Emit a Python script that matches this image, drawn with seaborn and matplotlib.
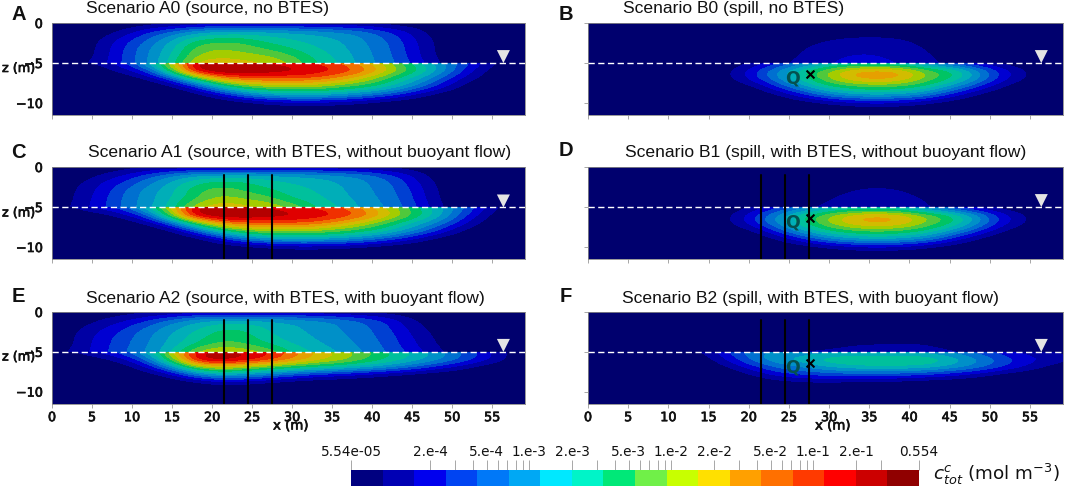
import numpy as np
import pandas as pd
import matplotlib
matplotlib.use("Agg")
import matplotlib.pyplot as plt
import matplotlib.patheffects as pe
from matplotlib.colors import BoundaryNorm, ListedColormap
from matplotlib.patches import Rectangle
import seaborn as sns

W, H = 1065, 489

# grid stations: first 6 rows sit above the water table, last 7 below it
x_m = [0, 3, 6, 9, 12, 15, 18, 21, 24, 27, 30, 33, 36, 39, 42, 45, 48, 51, 54, 57, 60]
z_upper = [0, -1, -2, -3, -4, -5]
z_lower = [-5, -6, -7, -8, -9, -10, -11]

# colour band reached at each grid node (0 = navy, 17 = dark red)
a0 = [
    [0, 0, 0, 0, .2, .5, .7, .8, .8, .8, .8, .7, .6, .5, .3, .1, 0, 0, 0, 0, 0],
    [0, 0, .2, 1.2, 2.8, 4, 5.5, 6, 6.2, 6, 5.8, 5.5, 5, 4.5, 3, 1.8, .3, 0, 0, 0, 0],
    [0, 0, .9, 2.5, 4, 6, 7.8, 8.5, 8.4, 7.5, 7, 6.5, 6, 5, 4, 2.2, .7, 0, 0, 0, 0],
    [0, 0, 1.2, 3, 4.8, 6.6, 9.5, 10, 9.5, 8.6, 7.8, 7, 6.3, 5.2, 4.2, 2.5, .8, 0, 0, 0, 0],
    [0, 0, 1.3, 3.1, 5, 7, 10, 10.5, 10.3, 10, 9, 7.6, 6.6, 5.4, 4.3, 2.6, .8, 0, 0, 0, 0],
    [0, .6, 1.5, 3.2, 5, 7.5, 11.5, 12, 11.5, 11, 10, 8, 7, 5.5, 4.5, 3, 1.2, 0, 0, 0, 0],
    [0, .7, 1.5, 3, 6.5, 11, 16, 16.5, 16, 15.6, 15.2, 14.7, 13.7, 12, 10, 7.5, 5.5, 3.8, 2, .2, 0],
    [0, 0, .3, 1.5, 3.5, 10, 17.1, 17.9, 17.7, 17.1, 16.6, 16, 15.2, 14, 11.5, 9, 6.5, 3.5, 1, 0, 0],
    [0, 0, 0, .2, 1, 3.5, 9, 13, 14, 14.3, 14.3, 14, 12.8, 11, 8.8, 6.8, 4.5, 2, .5, 0, 0],
    [0, 0, 0, 0, 0, .5, 3, 7, 9.5, 10.3, 10.5, 10.3, 9.5, 8.7, 7.5, 5.3, 3, .8, 0, 0, 0],
    [0, 0, 0, 0, 0, 0, .2, 2, 4.5, 6, 6.5, 6.5, 6, 5, 3.7, 2, .5, 0, 0, 0, 0],
    [0, 0, 0, 0, 0, 0, 0, 0, .3, 1, 1.5, 1.5, 1.2, .7, .2, 0, 0, 0, 0, 0, 0],
    [0] * 21,
]
a1 = [
    [0, 0, .1, .4, .6, .8, .8, .8, .8, .8, .8, .8, .7, .6, .5, .3, 0, 0, 0, 0, 0],
    [0, .1, 1, 2, 3.5, 5, 6, 6.3, 6.5, 6.3, 6, 5.8, 5.3, 4.8, 3.5, 2, .4, 0, 0, 0, 0],
    [0, .7, 2, 3.2, 4.8, 6.3, 8, 8.6, 8.3, 7.5, 7, 6.6, 6, 5.2, 4.3, 2.6, .8, 0, 0, 0, 0],
    [0, 1, 2.3, 4, 5.5, 6.8, 8.8, 9.7, 9, 8.3, 7.5, 7, 6.2, 5.3, 4.5, 3, 1, 0, 0, 0, 0],
    [0, 1.1, 2.5, 4.2, 5.6, 7, 9, 10.5, 10, 9.5, 8, 7.3, 6.5, 5.5, 4.7, 3.2, 1.1, 0, 0, 0, 0],
    [.2, 1.3, 2.6, 4.3, 5.7, 7.5, 11, 12, 11.5, 11, 10, 8, 7, 5.7, 5, 3.5, 1.5, 0, 0, 0, 0],
    [.2, 1.3, 2.6, 4, 7, 11.5, 16, 16.4, 16, 15.7, 15.2, 14.6, 14, 12.5, 10.5, 8.5, 6.5, 4.5, 2.3, .2, 0],
    [0, 0, .4, 1.5, 4, 10.5, 17, 17.7, 17.4, 17, 16.5, 16, 15.2, 14, 11.8, 9.3, 7, 4, 1.2, 0, 0],
    [0, 0, 0, .2, 1, 4, 9.5, 13, 14, 14.3, 14.2, 13.8, 12.5, 10.8, 8.8, 7, 5, 2.5, .6, 0, 0],
    [0, 0, 0, 0, 0, .6, 3.5, 7.5, 9.5, 10.3, 10.3, 10, 9.3, 8.5, 7.3, 5.3, 3.2, .9, 0, 0, 0],
    [0, 0, 0, 0, 0, 0, .2, 2.2, 4.5, 5.8, 6.2, 6.2, 5.8, 4.9, 3.6, 2, .5, 0, 0, 0, 0],
    [0, 0, 0, 0, 0, 0, 0, 0, .3, .8, 1.2, 1.2, 1, .6, .2, 0, 0, 0, 0, 0, 0],
    [0] * 21,
]
a2 = [
    [0, 0, .2, .4, .6, .8, .9, .9, .9, .9, .9, .8, .7, .5, .3, .1, 0, 0, 0, 0, 0],
    [0, .1, 1, 1.8, 3, 4.5, 5.8, 6.3, 6.3, 6.2, 5.8, 5.4, 4.8, 4, 2.8, 1.2, .1, 0, 0, 0, 0],
    [0, .8, 1.8, 3, 4.3, 5.7, 6.8, 8, 8, 6.8, 6.2, 5.7, 5, 4.3, 3.2, 1.6, .5, 0, 0, 0, 0],
    [0, 1, 2.4, 3.5, 4.8, 6.2, 7.5, 8.7, 8.5, 7.3, 6.4, 5.9, 5.2, 4.5, 3.5, 2, .8, 0, 0, 0, 0],
    [0, 1.1, 2.5, 3.7, 5, 6.4, 8, 9.3, 9, 8, 7, 6.2, 5.5, 4.7, 3.7, 2.2, 1, 0, 0, 0, 0],
    [.5, 1.3, 2.6, 3.9, 5.2, 7, 10.5, 11.5, 11, 10, 8, 6.8, 6, 5, 4, 2.7, 1.3, .5, 0, 0, 0],
    [.5, 1.3, 2.6, 4, 6.5, 11, 15.3, 16.2, 15.5, 15, 13.5, 11.5, 10.5, 9.3, 8, 6.8, 5.5, 4, 2.5, .8, 0],
    [0, 0, .5, 1.8, 4.5, 10, 16.5, 17.6, 16.5, 15.3, 13.5, 12, 11, 9.5, 8.2, 7, 5.8, 4.3, 2.7, .8, 0],
    [0, 0, 0, .3, 2, 5.5, 10, 11.5, 10.5, 9.5, 8.7, 8, 7.3, 6.5, 5.5, 4.3, 2.8, 1.5, .3, 0, 0],
    [0, 0, 0, 0, .2, 1.5, 4.5, 6, 5.5, 4.5, 3.5, 2.5, 2, 1.4, .8, .3, 0, 0, 0, 0, 0],
    [0, 0, 0, 0, 0, 0, .3, 1.2, 1, .5, .1, 0, 0, 0, 0, 0, 0, 0, 0, 0, 0],
    [0] * 21,
    [0] * 21,
]
b0 = [
    [0] * 21,
    [0] * 21,
    [0, 0, 0, 0, 0, 0, 0, 0, 0, .3, .9, 1.3, 1.4, 1.1, .4, 0, 0, 0, 0, 0, 0],
    [0, 0, 0, 0, 0, 0, 0, 0, .1, 1, 1.6, 1.9, 1.9, 1.6, .9, .2, 0, 0, 0, 0, 0],
    [0, 0, 0, 0, 0, 0, 0, 0, .4, 1.2, 1.9, 2, 2, 1.8, 1.2, .4, 0, 0, 0, 0, 0],
    [0, 0, 0, 0, 0, 0, 0, .3, .8, 1.5, 2, 2.2, 2.2, 2, 1.5, .7, .2, 0, 0, 0, 0],
    [0, 0, 0, 0, 0, 0, .2, 1, 2.5, 4, 5.5, 6, 6, 5.5, 4, 2.8, 1.3, .3, 0, 0, 0],
    [0, 0, 0, 0, 0, 0, 1, 3, 5.5, 8, 10.3, 12.3, 12.8, 12.3, 10, 8.5, 6, 3, 1.2, 0, 0],
    [0, 0, 0, 0, 0, 0, 1, 3, 5.5, 8, 10.3, 12.3, 12.9, 12.3, 10, 8.5, 6, 3, 1.2, 0, 0],
    [0, 0, 0, 0, 0, 0, 0, 1, 3.5, 6, 8, 9, 9.3, 9, 8, 6, 3.5, 1.3, 0, 0, 0],
    [0, 0, 0, 0, 0, 0, 0, 0, 1, 3, 5, 6, 6.3, 6, 5, 2.8, 1, 0, 0, 0, 0],
    [0, 0, 0, 0, 0, 0, 0, 0, 0, .3, 1, 1.7, 2, 1.7, 1, .3, 0, 0, 0, 0, 0],
    [0] * 21,
]
b1 = [
    [0] * 21,
    [0] * 21,
    [0, 0, 0, 0, 0, 0, 0, 0, 0, 0, 0, .6, .8, .6, .1, 0, 0, 0, 0, 0, 0],
    [0, 0, 0, 0, 0, 0, 0, 0, 0, 0, .6, 1.1, 1.2, 1.1, .6, 0, 0, 0, 0, 0, 0],
    [0, 0, 0, 0, 0, 0, 0, 0, 0, .2, 1, 1.4, 1.4, 1.3, 1, .2, 0, 0, 0, 0, 0],
    [0, 0, 0, 0, 0, 0, 0, .2, .5, .9, 1.3, 1.6, 1.6, 1.5, 1.2, .6, .2, 0, 0, 0, 0],
    [0, 0, 0, 0, 0, 0, .2, 1.1, 2.7, 4.2, 5.7, 6.2, 6.2, 5.7, 4.2, 2.9, 1.3, .3, 0, 0, 0],
    [0, 0, 0, 0, 0, 0, 1, 3.2, 5.7, 8.2, 10.2, 12, 12.5, 12, 10.2, 8.6, 6, 3, 1.2, 0, 0],
    [0, 0, 0, 0, 0, 0, 1, 3.2, 5.7, 8.2, 10.3, 12, 12.6, 12, 10.2, 8.6, 6, 3, 1.2, 0, 0],
    [0, 0, 0, 0, 0, 0, 0, 1, 3.7, 6.2, 8, 9, 9.3, 9, 8, 6, 3.6, 1.3, 0, 0, 0],
    [0, 0, 0, 0, 0, 0, 0, 0, 1.1, 3.1, 5, 6, 6.3, 6, 5, 2.9, 1, 0, 0, 0, 0],
    [0, 0, 0, 0, 0, 0, 0, 0, 0, .3, 1, 1.6, 1.9, 1.6, 1, .3, 0, 0, 0, 0, 0],
    [0] * 21,
]
b2 = [
    [0] * 21,
    [0] * 21,
    [0] * 21,
    [0] * 21,
    [0, 0, 0, 0, 0, 0, 0, 0, 0, 0, .2, .8, 1, 1.1, 1, .2, 0, 0, 0, 0, 0],
    [0, 0, 0, 0, 0, .1, .5, .8, 1, 1.2, 1.5, 1.8, 1.8, 1.8, 1.8, 1.3, .9, .6, .3, 0, 0],
    [0, 0, 0, 0, .3, 1.5, 3.5, 4.7, 5, 5, 5.2, 5.2, 5.2, 5.2, 5, 4.5, 3.5, 2.5, 1.5, 1, .5],
    [0, 0, 0, 0, 0, .6, 2.8, 5, 6.2, 6.8, 8, 8.4, 8.5, 8.5, 8.3, 7, 5.5, 4, 2.8, 2, 1.2],
    [0, 0, 0, 0, 0, 0, 1.2, 3, 4.5, 5.3, 6.2, 6.8, 7, 7, 6.8, 6, 5, 3.5, 2.2, .8, .2],
    [0, 0, 0, 0, 0, 0, 0, 1.2, 2.5, 3, 3.3, 3.5, 3.5, 3.3, 2.8, 2.2, 1.4, .5, 0, 0, 0],
    [0, 0, 0, 0, 0, 0, 0, 0, .3, .6, .6, .4, .3, .2, 0, 0, 0, 0, 0, 0, 0],
    [0] * 21,
    [0] * 21,
]

# the plots use a duller version of the scale bar colours
field_colors = ["#00006e", "#0000a4", "#0000d2", "#0040d2", "#0070d0", "#0090c8",
                "#00aeb8", "#00c09c", "#00c464", "#50c83c", "#a4cc00", "#d2bc00",
                "#e6a000", "#f07000", "#f03000", "#e00000", "#b40000", "#800000"]
bar_colors = ["#000080", "#0000b4", "#0000ee", "#0044f2", "#0078f8", "#00a8f4",
              "#00e8ff", "#00f4c8", "#00e878", "#70f048", "#c8ff00", "#ffe000",
              "#ffa000", "#ff7000", "#ff3a00", "#ff0000", "#cc0000", "#900000"]

wells_x = [21.5, 24.5, 27.5]
cbar_min, cbar_max = 5.54e-05, 0.554
cbar_ticks = [2e-4, 3e-4, 4e-4, 5e-4, 6e-4, 7e-4, 8e-4, 9e-4, 1e-3,
              2e-3, 3e-3, 4e-3, 5e-3, 6e-3, 7e-3, 8e-3, 9e-3, 1e-2,
              2e-2, 3e-2, 4e-2, 5e-2, 6e-2, 7e-2, 8e-2, 9e-2, 1e-1,
              2e-1, 3e-1]
cbar_label_pos = [5.54e-05, 2e-4, 5e-4, 1e-3, 2e-3, 5e-3, 1e-2, 2e-2, 5e-2, 1e-1, 2e-1, 0.554]
cbar_labels = ["5.54e-05", "2.e-4", "5.e-4", "1.e-3", "2.e-3", "5.e-3",
               "1.e-2", "2.e-2", "5.e-2", "1.e-1", "2.e-1", "0.554"]

sns.set_theme(style="white")
plt.rcParams["font.family"] = ["Liberation Sans", "DejaVu Sans"]

fig = plt.figure(figsize=(W / 100, H / 100), dpi=100)
heavy = [pe.withStroke(linewidth=0.5, foreground="#111111")]
x_end, z_end = 59.1, -11.5


def px_axes(left, top, right, bottom):
    return fig.add_axes([left / W, 1 - bottom / H, (right - left) / W, (bottom - top) / H])


def px_text(x, y, s, **kw):
    return fig.text(x / W, 1 - y / H, s, va="center", **kw)


cmap = ListedColormap(sns.color_palette(field_colors))
norm = BoundaryNorm(list(range(19)), cmap.N)

# grid, box, title, title xy, letter, letter xy, wells, z of water table
panels = [
    (a0, (52, 24, 525, 116), "Scenario A0 (source, no BTES)", (86, 8), "A", (12, 14), False, -5),
    (b0, (588, 24, 1063, 116), "Scenario B0 (spill, no BTES)", (623, 9), "B", (559, 14), False, -5),
    (a1, (52, 168, 525, 260), "Scenario A1 (source, with BTES, without buoyant flow)", (88, 153), "C", (11, 152), True, -5.05),
    (b1, (588, 168, 1063, 260), "Scenario B1 (spill, with BTES, without buoyant flow)", (625, 153), "D", (559, 150), True, -5),
    (a2, (52, 313, 525, 404.5), "Scenario A2 (source, with BTES, with buoyant flow)", (86, 298), "E", (12, 297), True, -5),
    (b2, (588, 313, 1063, 404.5), "Scenario B2 (spill, with BTES, with buoyant flow)", (622, 298), "F", (560, 297), True, -5),
]

for i, (grid, box, title, title_xy, letter, letter_xy, has_wells, water_z) in enumerate(panels):
    ax = px_axes(*box)
    ax.set_facecolor(field_colors[0])
    field = np.array(grid, dtype=float)
    half_x = (x_m[1] - x_m[0]) / 2

    # above and below the water table are separate images, the plume jumps there
    upper = ax.imshow(field[:len(z_upper)], cmap=cmap, norm=norm, aspect="auto",
                      interpolation="bicubic", interpolation_stage="data",
                      extent=(x_m[0] - half_x, x_m[-1] + half_x, z_upper[-1] - 0.5, z_upper[0] + 0.5))
    upper.set_clip_path(Rectangle((0, z_upper[-1]), x_end, -z_upper[-1], transform=ax.transData))
    lower = ax.imshow(field[len(z_upper):], cmap=cmap, norm=norm, aspect="auto",
                      interpolation="bicubic", interpolation_stage="data",
                      extent=(x_m[0] - half_x, x_m[-1] + half_x, z_lower[-1] - 0.5, z_lower[0] + 0.5))
    lower.set_clip_path(Rectangle((0, z_end), x_end, z_lower[0] - z_end, transform=ax.transData))

    table = pd.DataFrame({"x": [0, x_end], "z": [water_z, water_z]})
    sns.lineplot(data=table, x="x", y="z", ax=ax, color="white", lw=1,
                 linestyle=(0, (4.5, 2.5)), legend=False, errorbar=None, zorder=4)
    sns.scatterplot(x=[56.4], y=[water_z + 0.8], ax=ax, marker="v", s=88,
                    color="#e4e4e4", edgecolor="none", legend=False, zorder=5)

    if has_wells:
        for w in wells_x:
            well = pd.DataFrame({"x": [w, w], "z": [-1, z_end]})
            sns.lineplot(data=well, x="x", y="z", ax=ax, color="black", lw=1.5,
                         legend=False, estimator=None, sort=False, zorder=6)

    if i % 2 == 1:
        sns.scatterplot(x=[27.6], y=[-6.4], ax=ax, marker="x", s=32, color="black",
                        linewidth=1.5, legend=False, zorder=7)
        ax.text(25.5, -6.8, "Q", color="#04514f", fontsize=12.5, fontweight="bold",
                family="DejaVu Sans", ha="center", va="center", zorder=7)

    ax.set_xlim(0, x_end)
    ax.set_ylim(z_end, 0)
    ax.set_xticks(range(0, 60, 5))
    ax.set_yticks([0, -5, -10])
    ax.set_xlabel("")
    ax.set_ylabel("")
    for s in ax.spines.values():
        s.set_color("#888888")
        s.set_linewidth(0.6)

    bottom_row = i >= 4
    left_col = i % 2 == 0
    ax.tick_params(axis="x", bottom=True, length=3, width=0.6, color="#999999", pad=2.5,
                   labelbottom=bottom_row, labelsize=9.2)
    ax.tick_params(axis="y", left=not left_col, length=3, width=0.6, color="#999999", pad=3.6,
                   labelleft=left_col, labelsize=9.2)
    for lab in ax.get_xticklabels() + ax.get_yticklabels():
        lab.set_family("DejaVu Sans")
        lab.set_color("#111111")
        lab.set_path_effects(heavy)

    px_text(title_xy[0], title_xy[1], title, fontsize=12.6, color="#111111")
    px_text(letter_xy[0], letter_xy[1], letter, fontsize=14.5, fontweight="bold",
            color="#111111")

for y in (69.5, 214, 358):
    t = px_text(2, y, "z (m)", fontsize=9.2, family="DejaVu Sans", color="#111111")
    t.set_path_effects(heavy)
for x in (273, 815):
    t = px_text(x, 427, "x (m)", fontsize=9.6, family="DejaVu Sans", color="#111111")
    t.set_path_effects(heavy)

# scale bar
cax = px_axes(351, 471, 919, 487)
bar_edges = np.geomspace(cbar_min, cbar_max, 19)
for lo, hi, col in zip(bar_edges[:-1], bar_edges[1:], bar_colors):
    cax.axvspan(lo, hi, color=col, lw=0)
cax.set_xscale("log")
cax.set_xlim(cbar_min, cbar_max)
cax.set_yticks([])
cax.xaxis.tick_top()
cax.set_xticks(cbar_ticks + [cbar_min, cbar_max])
cax.set_xticklabels([])
cax.minorticks_off()
cax.tick_params(axis="x", top=True, bottom=False, length=7, width=0.6, color="#999999")
for s in cax.spines.values():
    s.set_visible(False)
for pos, lab in zip(cbar_label_pos, cbar_labels):
    cax.annotate(lab, (pos, 1), xycoords=("data", "axes fraction"), xytext=(0, 19),
                 textcoords="offset pixels", ha="center", va="center", fontsize=9.8,
                 family="DejaVu Sans", color="#111111")
px_text(933, 474, r"$c_{tot}^{c}$ (mol m$^{-3}$)", fontsize=13.2, family="DejaVu Sans", color="#111111")

fig.savefig("out.png", dpi=100)
plt.close("all")
